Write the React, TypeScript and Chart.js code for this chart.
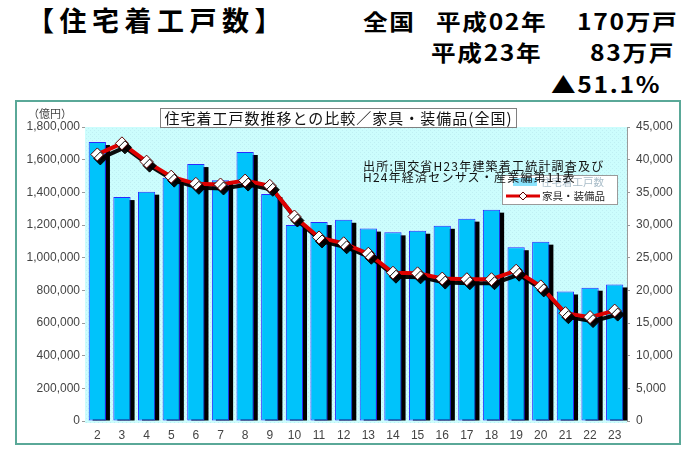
import React, { useEffect, useRef } from 'react';
import { Chart, registerables } from 'chart.js';

Chart.register(...registerables);

// 平成 year (category axis)
const categories = ['2', '3', '4', '5', '6', '7', '8', '9', '10', '11', '12', '13', '14', '15', '16', '17', '18', '19', '20', '21', '22', '23'];
// 住宅着工戸数 (bars, left axis)
const housingStarts = [1708000, 1371000, 1404000, 1490000, 1573000, 1474000, 1647000, 1390000, 1200000, 1218000, 1232000, 1178000, 1155000, 1165000, 1195000, 1239000, 1294000, 1064000, 1098000, 793000, 816000, 836000];
// 家具・装備品 (line, right axis)
const furnitureSales = [40800, 42500, 39700, 37400, 36300, 36200, 36800, 36000, 31300, 28100, 27200, 25600, 22700, 22600, 21800, 21700, 21700, 23000, 20600, 16500, 15900, 16900];

const barLabel = '住宅着工戸数';
const lineLabel = '家具・装備品';
const chartTitle = '住宅着工戸数推移との比較／家具・装備品(全国)';
const noteLines = ['出所:国交省H23年建築着工統計調査及び', 'H24年経済センサス・産業編第11表'];
const leftUnit = '（億円）';

const leftMax = 1800000;
const leftStep = 200000;
const rightMax = 45000;
const rightStep = 5000;

const TICK_FONT = '"Liberation Sans", Arial, sans-serif';
const JP_FONT = '"Noto Sans CJK JP", "Noto Sans", sans-serif';

const plotBgPlugin = {
  id: 'plotBg',
  beforeDatasetsDraw(chart: any) {
    const { ctx, chartArea } = chart;
    ctx.save();
    const pc = document.createElement('canvas');
    pc.width = 4;
    pc.height = 4;
    const p = pc.getContext('2d')!;
    p.fillStyle = '#ccfdfd';
    p.fillRect(0, 0, 4, 4);
    p.fillStyle = '#bfeff3';
    p.fillRect(0, 0, 1, 1);
    p.fillRect(2, 2, 1, 1);
    const pattern = ctx.createPattern(pc, 'repeat');
    ctx.fillStyle = pattern || '#ccfdfd';
    ctx.fillRect(chartArea.left, chartArea.top, chartArea.right - chartArea.left, chartArea.bottom - chartArea.top + 2);
    ctx.restore();
  },
};

const shadowPlugin = {
  id: 'dsShadow',
  beforeDatasetDraw(chart: any, args: any) {
    const ctx = chart.ctx;
    const r = chart.currentDevicePixelRatio || 1;
    ctx.save();
    if (args.meta.type === 'bar') {
      ctx.fillStyle = '#000000';
      args.meta.data.forEach((el: any) => {
        const { x, y, base, width } = el.getProps(['x', 'y', 'base', 'width'], true);
        ctx.fillRect(x - width / 2 + 4, y + 3, width, base - y - 3);
      });
    } else {
      ctx.shadowColor = 'rgba(0,0,0,0.95)';
      ctx.shadowBlur = 0;
      ctx.shadowOffsetX = 3 * r;
      ctx.shadowOffsetY = 4 * r;
    }
  },
  afterDatasetDraw(chart: any) {
    chart.ctx.restore();
  },
};

const legendPlugin = {
  id: 'customLegend',
  afterDraw(chart: any) {
    const { ctx } = chart;
    const bx = 502, by = 175, bw = 115, bh = 29;
    const barDs = chart.data.datasets[0];
    const lineDs = chart.data.datasets[1];
    ctx.save();
    ctx.fillStyle = '#ffffff';
    ctx.fillRect(bx, by, bw, bh);
    ctx.strokeStyle = '#9a9a9a';
    ctx.lineWidth = 1;
    ctx.strokeRect(bx + 0.5, by + 0.5, bw, bh);
    // row 1: bar
    ctx.globalAlpha = 0.45;
    ctx.fillStyle = barDs.backgroundColor;
    ctx.fillRect(513, 178, 24, 8);
    ctx.globalAlpha = 1;
    ctx.font = `10.5px ${JP_FONT}`;
    ctx.textBaseline = 'middle';
    ctx.fillStyle = '#a8bcc8';
    ctx.fillText(barDs.label, 541, 182);
    // row 2: line
    ctx.strokeStyle = lineDs.borderColor;
    ctx.lineWidth = 3;
    ctx.beginPath();
    ctx.moveTo(506, 196);
    ctx.lineTo(540, 196);
    ctx.stroke();
    ctx.fillStyle = '#ffffff';
    ctx.strokeStyle = '#600000';
    ctx.lineWidth = 1;
    ctx.beginPath();
    ctx.moveTo(523, 192);
    ctx.lineTo(527, 196);
    ctx.lineTo(523, 200);
    ctx.lineTo(519, 196);
    ctx.closePath();
    ctx.fill();
    ctx.stroke();
    ctx.fillStyle = '#222';
    ctx.fillText(lineDs.label, 542, 196);
    ctx.restore();
  },
};

const fmt = (v: any) => Number(v).toLocaleString('en-US');

export default function App() {
  const canvasRef = useRef<HTMLCanvasElement | null>(null);

  useEffect(() => {
    const canvas = canvasRef.current;
    if (!canvas) return;
    const chart = new Chart(canvas, {
      type: 'bar',
      data: {
        labels: categories,
        datasets: [
          {
            type: 'bar',
            label: barLabel,
            data: housingStarts,
            backgroundColor: '#00c3fb',
            borderColor: '#2a2aff',
            borderWidth: 1,
            borderSkipped: false,
            barPercentage: 0.7,
            categoryPercentage: 1,
            yAxisID: 'y',
            order: 2,
          } as any,
          {
            type: 'line',
            label: lineLabel,
            data: furnitureSales,
            borderColor: '#dd0000',
            borderWidth: 4,
            tension: 0,
            pointStyle: 'rectRot',
            pointRadius: 6.5,
            pointBackgroundColor: '#ffffff',
            pointBorderColor: '#5a0000',
            pointBorderWidth: 1,
            yAxisID: 'y2',
            order: 1,
          } as any,
        ],
      },
      options: {
        animation: false,
        responsive: false,
        maintainAspectRatio: false,
        layout: { padding: { top: 127, left: 0, right: 0, bottom: 0 } },
        plugins: {
          legend: { display: false },
          title: { display: false },
          tooltip: { enabled: false },
        },
        scales: {
          x: {
            offset: true,
            grid: { display: false, drawTicks: false },
            border: { display: false },
            ticks: {
              color: '#444',
              font: { family: TICK_FONT, size: 12 },
              padding: 7,
              autoSkip: false,
              maxRotation: 0,
            },
            afterFit: (s: any) => {
              s.height = 36;
            },
          },
          y: {
            position: 'left',
            min: 0,
            max: leftMax,
            ticks: {
              stepSize: leftStep,
              color: '#444',
              font: { family: TICK_FONT, size: 12 },
              padding: 2,
              callback: fmt,
            },
            grid: { drawOnChartArea: false, drawTicks: true, tickLength: 3, color: '#9a9a9a' },
            border: { display: true, color: '#9a9a9a' },
            afterFit: (s: any) => {
              s.width = 85;
            },
          },
          y2: {
            position: 'right',
            min: 0,
            max: rightMax,
            ticks: {
              stepSize: rightStep,
              color: '#444',
              font: { family: TICK_FONT, size: 12 },
              padding: 6,
              callback: fmt,
            },
            grid: { drawOnChartArea: false, drawTicks: true, tickLength: 3, color: '#9a9a9a' },
            border: { display: true, color: '#9a9a9a' },
            afterFit: (s: any) => {
              s.width = 68;
            },
          },
        },
      } as any,
      plugins: [plotBgPlugin, shadowPlugin, legendPlugin],
    });
    return () => chart.destroy();
  }, []);

  const big: React.CSSProperties = {
    position: 'absolute',
    fontFamily: JP_FONT,
    fontWeight: 700,
    fontSize: 22,
    lineHeight: '28px',
    color: '#000',
    whiteSpace: 'nowrap',
    letterSpacing: '1.5px',
    transform: 'scaleX(1.12)',
    transformOrigin: 'left center',
  };

  return (
    <div style={{ position: 'absolute', left: 0, top: 0, width: 695, height: 457, background: '#fff', overflow: 'hidden' }}>
      <div style={{ position: 'absolute', left: 15, top: 100, width: 666, height: 345, boxSizing: 'border-box', border: '2px solid #5aa898' }} />
      <div style={{ ...big, left: 27, top: 5, fontSize: 27, lineHeight: '30px', letterSpacing: '5.5px', transform: 'none' }}>【住宅着工戸数】</div>
      <div style={{ ...big, left: 363, top: 6 }}>全国</div>
      <div style={{ ...big, left: 436, top: 6 }}>平成02年</div>
      <div style={{ ...big, left: 577, top: 6 }}>170万戸</div>
      <div style={{ ...big, left: 431, top: 37 }}>平成23年</div>
      <div style={{ ...big, left: 590, top: 37 }}>83万戸</div>
      <div style={{ ...big, left: 551, top: 69 }}>▲51.1%</div>
      <canvas ref={canvasRef} width={695} height={457} style={{ position: 'absolute', left: 0, top: 0, width: 695, height: 457 }} />
      <div style={{ position: 'absolute', left: 28, top: 106, fontFamily: JP_FONT, fontSize: 11, lineHeight: '14px', color: '#444', whiteSpace: 'nowrap' }}>{leftUnit}</div>
      <div
        style={{
          position: 'absolute',
          left: 160,
          top: 108,
          width: 357,
          height: 20,
          boxSizing: 'border-box',
          border: '1px solid #808080',
          background: '#fff',
          fontFamily: JP_FONT,
          fontSize: 15,
          lineHeight: '18px',
          letterSpacing: '1px',
          textAlign: 'center',
          color: '#111',
          whiteSpace: 'nowrap',
        }}
      >
        {chartTitle}
      </div>
      <div style={{ position: 'absolute', left: 363, top: 160, fontFamily: JP_FONT, fontSize: 12, lineHeight: '11px', letterSpacing: '1.2px', color: '#111', whiteSpace: 'nowrap' }}>
        {noteLines.map((t) => (
          <div key={t}>{t}</div>
        ))}
      </div>
    </div>
  );
}
